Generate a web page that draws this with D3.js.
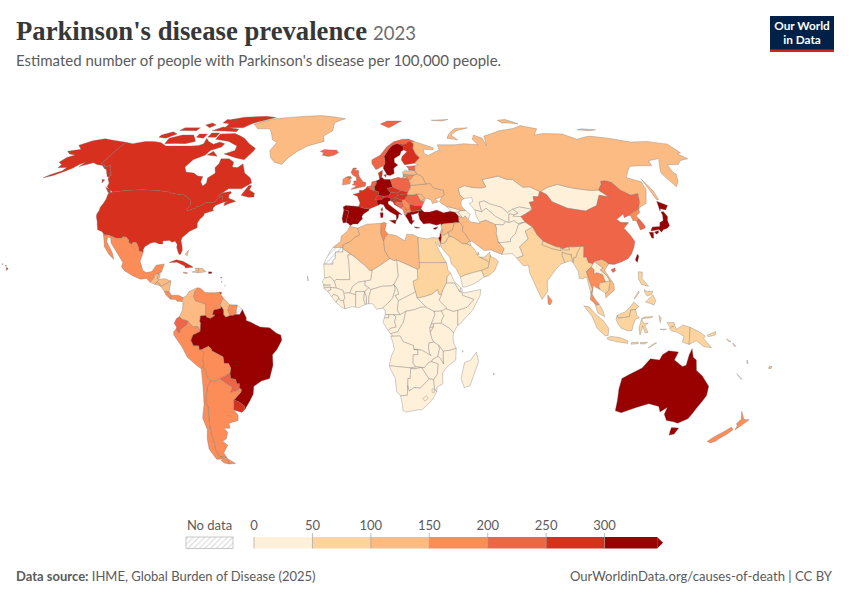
<!DOCTYPE html>
<html><head><meta charset="utf-8">
<script src="https://cdn.jsdelivr.net/npm/d3@7"></script>
<style>html,body{margin:0;padding:0;background:#fff}svg{display:block}text{font-family:Lato,sans-serif}</style>
</head><body><svg id="c" width="850" height="600"></svg>
<script>
const legendTicks=[0,50,100,150,200,250,300];
const legendColors=["#fef0d9","#fdd49e","#fdbb84","#fc8d59","#ef6548","#d7301f","#990000"];
const titleText="Parkinson's disease prevalence";
const yearText="2023";
const subtitleText="Estimated number of people with Parkinson's disease per 100,000 people.";
const noData=null;
// Estimated prevalence per 100,000 people, read from the map's colour bins
const prevalenceAmericas={USA:270,Alaska:270,Canada:270,Greenland:130,Mexico:165,Guatemala:120,Belize:120,ElSalvador:125,Honduras:110,Nicaragua:120,CostaRica:160,Panama:170,Cuba:270,Jamaica:160,Haiti:110,DominicanRep:130,PuertoRico:320,Trinidad:260,Colombia:140,Venezuela:170,Guyana:130,Suriname:160,FrenchGuiana:noData,Ecuador:210,Peru:170,Brazil:330,Bolivia:170,Paraguay:220,Argentina:180,Chile:180,Uruguay:265,Bahamas:130,Guadeloupe:200,Martinique:210,Barbados:150};
const prevalenceAfrica={Morocco:130,WesternSahara:noData,Mauritania:30,Algeria:130,Tunisia:175,Libya:130,Egypt:90,Sudan:70,Chad:25,Niger:20,Mali:20,Senegal:30,Gambia:30,GuineaBissau:25,Guinea:25,SierraLeone:25,Liberia:25,IvoryCoast:25,BurkinaFaso:20,Ghana:30,Togo:25,Benin:25,Nigeria:25,Cameroon:25,CAR:20,EqGuinea:30,Gabon:35,Congo:30,DRC:20,Angola:25,Zambia:25,Namibia:30,Botswana:35,Zimbabwe:30,SouthAfrica:40,Lesotho:30,Eswatini:30,Mozambique:20,Malawi:25,Tanzania:25,Rwanda:25,Burundi:20,Uganda:20,Kenya:25,Somalia:20,Ethiopia:25,Djibouti:35,Eritrea:25,SouthSudan:25,Madagascar:25,CapeVerde:40,Comoros:30,Mauritius:210};
const prevalenceAsia={Turkey:330,Syria:105,Iraq:105,Iran:135,SaudiArabia:85,Yemen:35,Oman:75,UAE:80,Qatar:70,Kuwait:90,Jordan:90,Israel:310,Lebanon:130,Cyprus:310,Georgia:45,Armenia:45,Azerbaijan:45,Kazakhstan:40,Mongolia:30,Uzbekistan:25,Turkmenistan:25,Kyrgyzstan:30,Tajikistan:25,Afghanistan:20,Pakistan:40,India:85,Nepal:60,Bhutan:70,Bangladesh:70,China:225,Taiwan:310,NorthKorea:170,SouthKorea:215,Japan:340,Russia:135,Myanmar:90,Thailand:180,Laos:40,Vietnam:135,Cambodia:80,Malaysia:90,Indonesia:80,Philippines:80,SriLanka:170};
const prevalenceEurope={Iceland:220,Spain:340,Portugal:330,France:280,Belgium:240,Netherlands:240,Luxembourg:270,Germany:350,Denmark:280,Switzerland:270,Austria:270,Italy:340,Slovenia:260,Croatia:270,Bosnia:210,Serbia:190,Montenegro:190,Albania:190,NorthMacedonia:190,Greece:330,Bulgaria:265,Romania:220,Hungary:260,Slovakia:255,Czechia:265,Poland:230,Ukraine:130,Moldova:140,Belarus:120,Lithuania:170,Latvia:140,Estonia:210,Finland:265,Sweden:340,Norway:240,UK:230,Ireland:190};
const prevalenceOceania={Australia:330,PNG:70,NewZealand:190,Solomon:60,Vanuatu:55,NewCaledonia:noData,Fiji:130,Samoa:60,Tonga:70};
const prevalence=Object.assign({},prevalenceAmericas,prevalenceAfrica,prevalenceAsia,prevalenceEurope,prevalenceOceania);
// Simplified country outlines, longitude,latitude
const outlinesAmericas={
USA:["-124.7,48.4 -123,49 -95.2,49 -94.6,48.7 -92,48.3 -89.5,48 -88,48.2 -84.8,46.8 -84.5,46.5 -83.5,46 -82.5,45.3 -82.1,43.6 -83.1,42.1 -82.5,41.7 -79,42.8 -79,43.3 -76.8,43.6 -76.3,44.2 -74.8,45 -71.5,45 -70.8,45.4 -70.2,46.3 -69.2,47.45 -68.3,47.3 -67.8,47.1 -67.8,45.7 -67,44.9 -68.5,44.3 -70,43.7 -70.8,42.8 -70.6,41.9 -70,41.7 -71.5,41.4 -74,40.7 -74.2,39.6 -75.4,38.5 -75.9,37.2 -76,36.9 -75.5,35.2 -77,34.6 -78.5,33.9 -79.9,32.7 -81.2,31.5 -81.4,30.4 -80.5,28.4 -80,26.8 -80.4,25.2 -81.1,25.1 -81.8,26.1 -82.7,27.7 -82.8,29 -84,30.1 -85.3,29.7 -86.5,30.4 -88,30.3 -89.5,30.2 -89.2,29.1 -90.8,29.1 -93,29.7 -94.7,29.4 -97,28 -97.4,26.9 -97.15,25.95 -99.1,26.4 -99.5,27.5 -100.7,29.1 -101.5,29.8 -102.7,29.7 -103.2,29 -104.5,29.6 -104.9,30.6 -106.5,31.75 -108.2,31.8 -108.2,31.33 -111,31.33 -114.8,32.5 -117.1,32.53 -117.3,33 -118.4,33.8 -120.6,34.5 -121.9,36.6 -122.5,37.7 -123.8,39.3 -124.3,40.4 -124.1,42 -124.5,42.9 -124,44.7 -124,46.2","-155.9,20.2 -155,19.7 -155.7,19","-158.2,21.6 -157.7,21.4 -158.1,21.3","-156.7,21 -156,20.8 -156.4,20.6"],
Alaska:["-141,69.65 -141,60.3 -139,60 -137.5,58.9 -135.5,59.7 -133.5,58.4 -131,56 -130,55.9 -130.5,54.9 -131.5,55 -133.5,56.5 -135.5,58 -137,58.4 -139.5,59.6 -143,60 -146,60.8 -148.5,60 -151.5,59.2 -150.5,61 -152.5,60 -154,58.5 -157,57 -160,55.5 -164,54.6 -162,55.8 -158,57.5 -157.5,58.8 -162,58.7 -162,60 -165,61 -164,63 -161,64 -165,64.5 -168,65.6 -162,66.5 -166.5,68.3 -162,70.3 -156.5,71.3 -150,70.5"],
Canada:["-141,69.65 -136,69 -130,70 -125,70 -120,69.5 -115,68 -108,68 -100,68 -96,68.2 -94,69 -95,71.5 -92,70 -88,68.8 -85,69.7 -81.5,69 -82,67.5 -87,66 -88,64 -93,62 -94.7,59 -92.5,57 -88,56.5 -85,55.3 -82.3,55.1 -82,53 -80,51.3 -78.8,52.5 -79.5,54.5 -76.8,56.5 -78.5,58.7 -77.5,60.5 -78,62.4 -73.5,62.4 -70,61 -69.5,59 -66.5,58.8 -64.5,60.3 -61.5,56.5 -57.5,54.5 -56,52.5 -60,50.2 -66.5,50.2 -69,48.5 -71,46.9 -68.5,48.7 -65,49.2 -64.3,48.6 -65.3,47.9 -64.8,46.5 -62,45.8 -61,45.3 -63.5,44.6 -66,43.6 -66,44.8 -64.5,45.4 -67,44.9 -67.8,45.7 -67.8,47.1 -68.3,47.3 -69.2,47.45 -70.2,46.3 -70.8,45.4 -71.5,45 -74.8,45 -76.3,44.2 -76.8,43.6 -79,43.3 -79,42.8 -82.5,41.7 -83.1,42.1 -82.1,43.6 -82.5,45.3 -83.5,46 -84.5,46.5 -84.8,46.8 -88,48.2 -89.5,48 -92,48.3 -94.6,48.7 -95.2,49 -123,49 -124.7,49.7 -127.5,51 -128,52.5 -130,54 -130.5,54.9 -130,55.9 -131,56 -133.5,58.4 -135.5,59.7 -137.5,58.9 -139,60 -141,60.3","-128,50.8 -125,50 -123.5,48.4 -125,48.8","-133,54 -131.5,53.8 -131.5,52.5","-59.3,47.7 -57,51.5 -55.5,51.5 -56,49.8 -53,48.5 -52.8,47 -55.5,46.9","-62,66 -65,62 -70,62.8 -78,64.5 -73,66 -73.5,68 -80,70 -89,71 -89,73.5 -80,73.7 -72,71.5 -67,69 -62,67","-105,69 -117,69 -118,71.5 -112,73 -105,73 -100,70","-125,72 -120,71.5 -116,73.5 -120,74.5 -125,73","-90,76.5 -78,76.5 -75,78.5 -68,80.5 -62,82.3 -70,83.1 -85,82.4 -92,81 -90,78","-96,75 -80,74.5 -80,75.8 -92,77","-95,79 -88,78.5 -87,80.5 -95,81","-117,75.2 -106,75 -106,76.5 -116,76.5","-95,72 -90,72 -90,74 -95,74","-102,72 -97,71.5 -97,73.5 -102,73.5","-87,64 -81,63.5 -85,65.7","-105,78 -100,76.5 -98,78 -102,79"],
Greenland:["-73,78.3 -68,76 -60,76 -54.5,70.8 -51,69.5 -53,66 -51,63 -48,61 -43.5,60 -41,63 -37,65.7 -32,68 -23,70 -24,72.5 -19,75 -19,79 -12,81.5 -30,83.5 -50,82.5 -62,81.5 -68,80"],
Mexico:["-117.1,32.53 -114.8,32.5 -111,31.33 -108.2,31.33 -108.2,31.8 -106.5,31.75 -104.9,30.6 -104.5,29.6 -103.2,29 -102.7,29.7 -101.5,29.8 -100.7,29.1 -99.5,27.5 -99.1,26.4 -97.15,25.95 -97.8,22.5 -96,19 -94.5,18.2 -92,18.6 -90.5,21 -87,21.5 -87.8,18.2 -88.3,18.5 -88.9,17.9 -91,17.25 -90.5,16.5 -92.2,14.5 -94,16 -96.5,15.7 -100,16.9 -104,18.9 -105.6,20.4 -105.3,22 -108,25 -109.5,26.5 -112.5,29.5 -113.2,31.2 -114.8,31.7 -114.6,30 -111,26 -109.5,23.2 -112,25 -115,28 -116,30.5"],
Guatemala:["-92.2,14.5 -90.5,16.5 -91,17.25 -88.9,17.9 -89.15,15.9 -88.2,15.7 -89.35,14.4 -90.1,13.75"],
Belize:["-88.3,18.5 -88.2,16.3 -89.15,15.9 -88.9,17.9"],
ElSalvador:["-90.1,13.75 -89.35,14.4 -87.8,13.9 -87.8,13.2"],
Honduras:["-88.2,15.7 -86,15.9 -83.2,15 -85,14 -87.3,13 -87.8,13.2 -87.8,13.9 -89.35,14.4"],
Nicaragua:["-83.2,15 -83.6,11 -85.7,11.1 -87.6,13 -87.3,13 -85,14"],
CostaRica:["-83.6,11 -82.6,9.6 -82.9,8.1 -85,9.8 -85.7,11.1"],
Panama:["-82.6,9.6 -79.5,9.6 -77.4,8.7 -77.9,7.2 -80,7.3 -80.5,8 -82.9,8.1"],
Cuba:["-85,22 -82,23.1 -79,22.5 -75,20.7 -74.2,20.2 -77.5,19.9 -78,20.7 -81.5,22.1"],
Jamaica:["-78.3,18.4 -76.3,18.1 -77,17.8 -78.3,18.2"],
Haiti:["-74.4,18.4 -71.7,18.1 -71.7,19.8 -73.2,19.9 -72.7,18.9"],
DominicanRep:["-71.7,18.1 -68.4,18.5 -69.8,19.7 -71.7,19.8"],
PuertoRico:["-67.2,18.5 -65.7,18.4 -66,17.9 -67.2,17.9"],
Trinidad:["-61.9,10.7 -61,10.8 -61,10.1 -61.9,10.1"],
Bahamas:["-78.4,25.2 -77.2,26.7 -77.4,24.6"],
Guadeloupe:["-61.8,16.4 -61.2,16.4 -61.5,16"],
Martinique:["-61.2,14.9 -60.9,14.6 -61.1,14.4"],
Barbados:["-59.7,13.3 -59.4,13.2 -59.6,13"],
Colombia:["-77.4,8.7 -76,9.4 -75,11 -72,12.3 -71.2,12.4 -72.5,11 -72.9,9 -71.9,7.4 -70,7 -67.5,6.2 -67.5,4 -67.5,1.9 -69.8,1.7 -69.8,0.6 -70,-0.2 -69.6,-1 -69.9,-4.2 -70.9,-2.3 -73,-2.4 -75.2,-0.2 -77.5,0.4 -78.8,1.4 -77.5,4 -77.4,7 -77.9,7.2"],
Venezuela:["-72.5,11 -71.2,12.4 -70,12.2 -68,10.6 -64,10.5 -62,10.7 -60,8.5 -60.7,7.5 -61.3,5.9 -60.7,5.2 -61.3,4.5 -64,4 -64.5,2.2 -63.4,2.2 -64,1.5 -65.5,0.8 -67,1.2 -67.5,1.9 -67.5,4 -67.5,6.2 -70,7 -71.9,7.4 -72.9,9"],
Guyana:["-60,8.5 -57.2,6 -58,4 -56.9,1.9 -58.8,1.2 -59.8,2.2 -59.9,4 -60.7,5.2 -61.3,5.9 -60.7,7.5"],
Suriname:["-57.2,6 -54,5.9 -54.4,2.3 -56,1.9 -56.9,1.9 -58,4"],
FrenchGuiana:["-54,5.9 -51.7,4.2 -52.8,2.3 -54.4,2.3"],
Ecuador:["-78.8,1.4 -77.5,0.4 -75.2,-0.2 -75.5,-1.5 -78.3,-3.4 -79,-5 -80.3,-3.4 -80,-2.5 -81,-1 -80,0.8"],
Peru:["-80.3,-3.4 -79,-5 -78.3,-3.4 -75.5,-1.5 -75.2,-0.2 -73,-2.4 -70.9,-2.3 -69.9,-4.2 -73,-5.5 -74,-7.5 -73,-9.5 -70.6,-9.6 -70.6,-11 -69.5,-11 -68.7,-12.5 -69.4,-15.5 -69,-16.5 -69.5,-17.5 -70.4,-18.35 -72,-17.3 -76,-14 -78,-10 -81.3,-5.5 -81.3,-4.2"],
Brazil:["-60.7,5.2 -59.9,4 -59.8,2.2 -58.8,1.2 -56.9,1.9 -56,1.9 -54.4,2.3 -52.8,2.3 -51.7,4.2 -50,1 -50,0 -48,-0.7 -44,-2.5 -40,-2.8 -37,-4.8 -35.2,-5.5 -34.8,-7.5 -37,-11 -39,-13 -39,-17 -40.8,-22 -44.5,-23 -48,-25 -48.7,-28 -50.5,-30.5 -53.4,-33.8 -53.3,-32.5 -55.6,-30.9 -57.6,-30.2 -54,-27.2 -53.7,-26.2 -54.6,-25.6 -54.3,-24 -55.5,-24 -55.8,-22.3 -58,-22 -58,-20 -57.5,-18 -58.3,-16.3 -60.2,-16.3 -60.5,-13.8 -65.3,-11.5 -65.3,-10.9 -66.5,-9.8 -69.5,-11 -70.6,-11 -70.6,-9.6 -73,-9.5 -74,-7.5 -73,-5.5 -69.9,-4.2 -69.6,-1 -70,-0.2 -69.8,0.6 -69.8,1.7 -67.5,1.9 -67,1.2 -65.5,0.8 -64,1.5 -63.4,2.2 -64.5,2.2 -64,4 -61.3,4.5"],
Bolivia:["-69.5,-11 -66.5,-9.8 -65.3,-10.9 -65.3,-11.5 -60.5,-13.8 -60.2,-16.3 -58.3,-16.3 -57.5,-18 -58,-20 -62.6,-22.2 -64.3,-22.8 -67,-23 -68.2,-21.5 -68.5,-19.5 -69.5,-17.5 -69,-16.5 -69.4,-15.5 -68.7,-12.5"],
Paraguay:["-58,-20 -58,-22 -55.8,-22.3 -55.5,-24 -54.3,-24 -54.6,-25.6 -55,-26.5 -58.6,-27.3 -57.6,-25.4 -60,-24 -62.6,-22.2"],
Argentina:["-67,-23 -64.3,-22.8 -62.6,-22.2 -60,-24 -57.6,-25.4 -58.6,-27.3 -55,-26.5 -54.6,-25.6 -53.7,-26.2 -54,-27.2 -57.6,-30.2 -58.2,-33 -58.4,-34 -57,-36 -57.5,-38 -62,-39 -62.2,-41 -65,-41 -63.8,-42.5 -65.3,-45 -67.5,-46 -65.7,-47.5 -69,-50.5 -68.4,-52.3 -71.9,-52 -72.5,-49.5 -71.7,-46 -71.8,-43 -71.2,-39.5 -70.5,-36 -69.9,-33 -70.5,-31 -69.2,-27 -68.3,-24.5","-68.6,-52.6 -65.2,-54.7 -68.6,-54.9"],
Chile:["-70.4,-18.35 -69.5,-17.5 -68.5,-19.5 -68.2,-21.5 -67,-23 -68.3,-24.5 -69.2,-27 -70.5,-31 -69.9,-33 -70.5,-36 -71.2,-39.5 -71.8,-43 -71.7,-46 -72.5,-49.5 -71.9,-52 -68.4,-52.3 -70.5,-53 -74,-53 -75.5,-49 -74.5,-45 -73,-41.5 -73.6,-37 -71.5,-32 -70.5,-25","-68.6,-52.6 -68.6,-54.9 -71,-54.5 -72,-53.5 -70,-53"],
Uruguay:["-57.6,-30.2 -55.6,-30.9 -53.3,-32.5 -53.4,-33.8 -55,-34.9 -58.4,-34 -58.2,-33"]};
const outlinesAfrica={
Morocco:["-5.9,35.8 -2.2,35.1 -1.7,33.5 -1.2,32.5 -3.6,31.5 -5.5,29.9 -8.7,28.7 -8.7,27.7 -13.2,27.7 -9.8,30 -9.6,32 -6.8,34"],
WesternSahara:["-13.2,27.7 -8.7,27.7 -8.7,26 -12,26 -12,23.5 -13,21.4 -17,21.4 -16,23.5 -14.5,26"],
Mauritania:["-17,21.4 -13,21.4 -13,23 -12,23.5 -12,26 -8.7,26 -8.7,27.3 -4.8,25 -6.5,24.9 -5.9,21.3 -5.5,15.5 -9.3,15.5 -11.5,15.6 -12.2,14.8 -14,16.6 -16.5,16.1"],
Algeria:["-2.2,35.1 2,36.6 8.6,36.9 8.3,33 9.5,30.2 9.9,26.5 11.97,23.5 7.5,20.8 4.2,19.1 3.2,18.9 1.2,20.8 -4.8,25 -8.7,27.3 -8.7,28.7 -5.5,29.9 -3.6,31.5 -1.2,32.5 -1.7,33.5"],
Tunisia:["8.6,36.9 10,37.3 11,36.9 10.2,34.3 11.2,33.2 11.5,32.9 10.3,31.7 9.5,30.2 8.3,33"],
Libya:["11.5,32.9 15.2,32.3 19,30.3 20,32.8 23,32.6 25,31.6 25,22 25,20 24,19.5 15,23 14.2,22.6 11.97,23.5 9.9,26.5 9.5,30.2 10.3,31.7"],
Egypt:["25,31.6 29,31 31.5,31.5 34.2,31.3 34.9,29.5 34.3,27.9 33,29.6 32.6,29.8 33.8,27 35.5,24 36.9,22 31.4,22 25,22"],
Sudan:["24,19.5 25,20 25,22 31.4,22 36.9,22 37.4,19 38.5,18 36.9,16.8 36.5,14.3 35,12 34,9.6 33,10 32.4,11.7 30,10 26.5,9 24.6,8.7 23.5,8.7 22.9,10.9 22.3,12.6 22,15 24,15.7"],
Chad:["15,23 24,19.5 24,15.7 22,15 22.3,12.6 22.9,10.9 18.9,9 15.5,7.5 14,9.5 15.6,10 15,12 13.6,13.7 15.5,16.9"],
Niger:["11.97,23.5 14.2,22.6 15,23 15.5,16.9 13.6,13.7 12.5,13.1 8.5,13 3.6,11.7 2.8,12.4 1,13.3 1,15 3.5,15.4 4.2,19.1 7.5,20.8"],
Mali:["-4.8,25 1.2,20.8 3.2,18.9 4.2,19.1 3.5,15.4 1,15 -2,14.5 -4.3,12.9 -5.5,10.5 -7.6,10.4 -8,10.2 -8.5,11.5 -11.4,12.3 -12.2,14.8 -11.5,15.6 -9.3,15.5 -5.5,15.5 -5.9,21.3 -6.5,24.9"],
Senegal:["-16.5,16.1 -14,16.6 -12.2,14.8 -11.4,12.3 -13.7,12.6 -16.7,12.4 -16.8,13.6 -17.5,14.7"],
Gambia:["-16.8,13.6 -14,13.6 -14,13.2 -16.8,13.2"],
GuineaBissau:["-16.7,12.4 -13.7,12.6 -13.7,11.7 -15,11 -16.5,12"],
Guinea:["-13.7,12.6 -11.4,12.3 -8.5,11.5 -8,10.2 -7.6,8.4 -8.2,7.6 -9.4,7.5 -10.3,8.5 -10.7,9.3 -12.5,9.9 -13.3,9 -15,11 -13.7,11.7"],
SierraLeone:["-13.3,9 -12.5,9.9 -10.7,9.3 -10.3,8.5 -11.4,6.9"],
Liberia:["-11.4,6.9 -10.3,8.5 -9.4,7.5 -8.2,7.6 -7.5,4.4 -9,5"],
IvoryCoast:["-8.2,7.6 -7.6,8.4 -8,10.2 -7.6,10.4 -5.5,10.5 -2.9,9.8 -3,5.1 -4.8,5.2 -7.5,4.4"],
BurkinaFaso:["-5.5,10.5 -4.3,12.9 -2,14.5 1,15 1,13.3 2.8,12.4 0.9,11 -2.9,11 -2.9,9.8"],
Ghana:["-2.9,11 0.9,11 0.5,8 1.2,6.1 -2,4.8 -3,5.1 -2.9,9.8"],
Togo:["0.9,11 1.7,9 1.7,6.2 1.2,6.1 0.5,8"],
Benin:["0.9,11 2.8,12.4 3.6,11.7 2.8,9 2.7,6.4 1.7,6.2 1.7,9"],
Nigeria:["2.7,6.4 2.8,9 3.6,11.7 8.5,13 12.5,13.1 13.6,13.7 14.2,12 13,8.5 11,6.6 8.6,4.7 6,4.3 4.5,6.3"],
Cameroon:["8.6,4.7 11,6.6 13,8.5 14.2,12 13.6,13.7 15,12 15.6,10 14,9.5 15.5,7.5 15,4 16.2,2.2 13.3,2.2 9.8,2.3 9.7,4"],
CAR:["15.5,7.5 18.9,9 22.9,10.9 23.5,8.7 27.4,5.1 25,5 22.4,4.1 18.6,3.5 16.2,2.2 15,4"],
EqGuinea:["9.8,2.3 11.3,2.2 11.3,1 9.4,1"],
Gabon:["9.4,1 11.3,1 11.3,2.2 13.3,2.2 14.4,1.4 13.8,-0.5 14.5,-2.5 12,-3 11.1,-3.9 8.8,-0.7"],
Congo:["11.1,-3.9 12,-3 14.5,-2.5 13.8,-0.5 14.4,1.4 13.3,2.2 16.2,2.2 18.6,3.5 17.7,-0.5 16,-3 15.2,-4.3 12,-5"],
DRC:["12.2,-6 13,-5.9 12,-5 15.2,-4.3 16,-3 17.7,-0.5 18.6,3.5 22.4,4.1 25,5 27.4,5.1 30.8,3.5 31.2,2.3 29.6,-1.4 29,-2.7 29.2,-4.4 30,-7 30.8,-8.2 28.7,-8.5 28.5,-10 29,-12.4 29.8,-13.4 27.5,-12.2 25.7,-11.3 22.2,-11 22,-9.5 17.6,-8.1 16.2,-5.9"],
Angola:["12.2,-6 16.2,-5.9 17.6,-8.1 22,-9.5 22.2,-11 24,-11 24,-13 22,-13 22,-16.2 23.4,-17.6 21,-18 14,-17.4 11.7,-17.2 12.5,-13.5 13.8,-11 13,-8"],
Zambia:["22.2,-11 25.7,-11.3 27.5,-12.2 29.8,-13.4 29,-12.4 28.5,-10 28.7,-8.5 30.8,-8.2 33,-9.4 33.3,-10.8 32.7,-13.6 30.2,-15 30.2,-15.6 28.9,-15.9 27,-17.9 25.3,-17.8 23.4,-17.6 22,-16.2 22,-13 24,-13 24,-11"],
Namibia:["11.7,-17.2 14,-17.4 21,-18 23.4,-17.6 25.3,-17.8 23.4,-18.3 21,-18.3 21,-22 20,-22 20,-28.4 17,-28.6 15.2,-27 14.4,-22 12,-18"],
Botswana:["21,-18.3 23.4,-18.3 25.3,-17.8 26,-18 29.3,-22.2 26.9,-24.5 25.6,-25.7 22.8,-25.5 20.7,-26.8 20,-24.8 20,-22 21,-22"],
Zimbabwe:["25.3,-17.8 27,-17.9 28.9,-15.9 30.2,-15.6 33,-16.5 32.8,-20.5 31.3,-22.4 29.3,-22.2 26,-18"],
SouthAfrica:["17,-28.6 20,-28.4 20,-24.8 20.7,-26.8 22.8,-25.5 25.6,-25.7 26.9,-24.5 29.3,-22.2 31.3,-22.4 32,-26 32.9,-27 32,-29 30,-31.5 27,-33.9 25,-34 20,-34.8 18.4,-34.2 18,-32"],
Lesotho:["27,-29.6 28.6,-28.6 29.4,-29.6 28,-30.6"],
Eswatini:["30.8,-26 32,-26 32,-27.3 31,-27.3"],
Mozambique:["30.2,-15 30.2,-15.6 33,-16.5 32.8,-20.5 31.3,-22.4 32,-26 32.9,-27 33,-25.3 35.5,-24 35,-20 37,-17.5 40.5,-15 40.5,-10.5 38,-11.2 34.9,-11.6 35,-14.3 35.3,-16.5 34,-14.5 32.7,-13.6"],
Malawi:["33,-9.4 34.9,-11.6 35,-14.3 35.3,-16.5 34,-14.5 32.7,-13.6 33.3,-10.8"],
Tanzania:["30.5,-1.1 33.9,-1 37.6,-3 39.2,-4.7 39,-6.5 39.5,-9 40.5,-10.5 38,-11.2 34.9,-11.6 33,-9.4 30.8,-8.2 30,-7 29.2,-4.4 30.5,-2.4"],
Rwanda:["29,-2.7 30.5,-2.4 30.5,-1.1 29.6,-1.4"],
Burundi:["29,-2.7 30.5,-2.4 29.2,-4.4"],
Uganda:["30.8,3.5 33.9,3.7 35,1.8 34,0 33.9,-1 30.5,-1.1 29.6,-1.4 31.2,2.3"],
Kenya:["33.9,3.7 36,4.5 39,3.5 41,3.9 41,-1.7 39.2,-4.7 37.6,-3 33.9,-1 34,0 35,1.8"],
Somalia:["41,3.9 42,4.2 45,5 48,8 43.3,9.5 42.8,10.9 44,10.5 51.2,11.8 50.8,9.5 47.5,4 41.5,-1.7 41,-1.7"],
Ethiopia:["36,4.5 39,3.5 41,3.9 42,4.2 45,5 48,8 43.3,9.5 42.8,10.9 42,11 40,14.3 37.5,14.3 36.5,14.3 35,12 34,9.6 33,7.7 35.9,5"],
Djibouti:["42,11 42.8,10.9 43.3,11.6 42.6,12.5"],
Eritrea:["38.5,18 39.7,15 42.6,12.5 42,11 40,14.3 37.5,14.3 36.5,14.3 36.9,16.8"],
SouthSudan:["23.5,8.7 24.6,8.7 26.5,9 30,10 32.4,11.7 33,10 34,9.6 33,7.7 35.9,5 36,4.5 33.9,3.7 30.8,3.5 27.4,5.1"],
Madagascar:["49.3,-12 50.5,-15.5 47.5,-24.8 45,-25.5 43.3,-22 44.4,-16 47,-15"],
CapeVerde:["-24,16.9 -23.5,15.3 -23.8,15"],
Comoros:["43.3,-11.4 43.6,-12 43.3,-12"],
Mauritius:["57.4,-20 57.8,-20.3 57.4,-20.6"]};
const outlinesAsia={
Turkey:["26.2,41.8 28,42 29,41.2 31.5,41.2 35,42 38,41 41.5,41.5 43.5,41.1 44.8,39.7 44.5,37.8 44.8,37.2 42.4,37.1 38,36.8 36.7,36.7 36,36 36,36.8 34,36.2 30.7,36.9 28,36.7 26.5,38.5 26.2,40"],
Syria:["36,36 36.7,36.7 38,36.8 42.4,37.1 41,34.5 38.8,33.4 36.8,32.3 35.8,33 36.4,34.6 35.9,35"],
Iraq:["42.4,37.1 44.8,37.2 46,35.8 45.4,34 46.5,32.9 47.7,31 48.5,30 47.7,30 46.5,29.1 44.7,29.2 41,31.5 39,32 38.8,33.4 41,34.5"],
Iran:["44.8,39.7 47.9,39.7 48.9,38.4 50,37.4 54,36.9 54,37.4 57,38.2 61,36.5 61.2,35 60.6,33 60.9,29.8 63,27.2 61.6,25.1 57,26.8 54,26.6 51,28.7 48.9,30.3 48.5,30 47.7,31 46.5,32.9 45.4,34 46,35.8 44.8,37.2 44.5,37.8"],
SaudiArabia:["34.9,29.5 36,29.2 37.5,30 38,31 39,32 41,31.5 44.7,29.2 46.5,29.1 48.4,28.5 50,26.7 50.8,24.8 51.6,24.1 55,22.7 55.7,22 55,20 52,19 48.8,18.3 45,17.4 43.2,16.7 42.7,16.4 40.8,19.8 39,21.5 38.5,24 36.6,26 34.9,28.1"],
Yemen:["42.7,16.4 43.2,16.7 45,17.4 48.8,18.3 52,19 53.1,16.6 48.5,14 45,12.8 43.4,12.7"],
Oman:["52,19 55,20 55.7,22 56.4,24.9 56.8,24.2 58.6,23.5 59.8,22.4 57.8,19 55,17 53.1,16.6"],
UAE:["51.6,24.1 54,24.1 56.3,26 56.4,24.9 55.7,22 55,22.7"],
Qatar:["50.8,24.8 51.2,26.1 51.6,25"],
Kuwait:["46.5,29.1 47.7,30 48.1,29.5 48.4,28.5"],
Jordan:["34.9,29.5 35.5,31.5 35.6,32.7 36.8,32.3 38.8,33.4 39,32 38,31 37.5,30 36,29.2"],
Israel:["34.2,31.3 34.9,29.5 35.5,31.5 35.6,32.7 35.1,33.1 34.9,32"],
Lebanon:["35.1,33.1 35.8,33 36.4,34.6 35.9,34.6"],
Cyprus:["32.3,35 34.5,35.6 33.5,34.7 32.5,34.7"],
Georgia:["40,43.4 43.8,42.6 46.5,41.8 45,41.2 43.5,41.1 41.5,41.5"],
Armenia:["43.5,41.1 45,41.2 46.5,38.9 44.8,39.7"],
Azerbaijan:["45,41.2 46.5,41.8 48.6,41.8 50.3,40.3 48.9,38.4 47.9,39.7 46.5,38.9"],
Kazakhstan:["47.5,50.4 51,51.5 55,50.7 59.5,50.6 61.5,51 61,53.9 65,54.5 70,55.3 73.5,54 76.5,54 77,53.5 80,50.9 83.5,51 87.3,49.2 85.5,47.1 83,47.2 82.5,45.3 80,45 80.2,42.2 74.5,43.2 71,42.3 68,41 66,43 61,44.3 58.5,45.5 56,45 56,41.3 53,42 51,44.5 53,45.3 53,46.9 49,46.4 47.5,48"],
Mongolia:["87.8,49.2 92,50.8 98,52 102,51 106,50.3 113,49.6 116.7,49.8 119.8,47 115.5,47.7 111.5,43.7 105,41.6 97,42.7 91,45.2 90,47.9"],
Uzbekistan:["56,45 58.5,45.5 61,44.3 66,43 68,41 71,42.3 73,40.8 71,40.2 68.5,40.5 67.5,37.2 66,37.5 62,39.5 58.5,42.7 56,41.3"],
Turkmenistan:["53,42 56,41.3 58.5,42.7 62,39.5 66,37.5 64.5,36.3 61,36.5 57,38.2 54,37.4 53,39.5"],
Kyrgyzstan:["71,42.3 74.5,43.2 80.2,42.2 76,40.4 73.7,39.5 70,39.6 71,40.2 73,40.8"],
Tajikistan:["68.5,40.5 71,40.2 70,39.6 73.7,39.5 75,37.4 71.5,36.8 70,37.9 67.5,37.2"],
Afghanistan:["61,36.5 64.5,36.3 66,37.5 67.5,37.2 70,37.9 71.5,36.8 75,37.4 71.6,36.4 69.3,33 66.5,31 66.3,29.9 61,29.5 60.9,29.8 60.6,33 61.2,35"],
Pakistan:["60.9,29.8 61,29.5 66.3,29.9 66.5,31 69.3,33 71.6,36.4 75,37.4 77.8,35.5 74,34 74.5,31 70,28 71,24.6 68,23.7 66.5,25.4 61.6,25.1 63,27.2"],
India:["74.5,31 74,34 77.8,35.5 79,32.5 81,30.2 80.1,28.8 84,27.4 88.1,26.5 88.1,27.9 88.8,27.3 89.8,26.8 92,26.9 91.5,28 94,28 97.3,28.2 95,25.5 94.2,23.9 93.3,24 92.6,22 92,24.8 92.4,25 89.9,25.3 88.5,26 88.2,24.5 89,22 87,21.4 85,19.8 80.3,15 80,11 77.5,8 76,11 73,18 72.8,21 70.5,20.8 69,22.5 68,23.7 71,24.6 70,28"],
Nepal:["80.1,28.8 81,30.2 84,29 86.5,28 88.1,27.9 88.1,26.5 84,27.4"],
Bhutan:["88.8,27.3 91.5,28 92,26.9 89.8,26.8"],
Bangladesh:["88.2,24.5 88.5,26 89.9,25.3 92.4,25 92,24.8 92.6,22 91.5,22.7 89,22"],
China:["73.7,39.5 76,40.4 80.2,42.2 80,45 82.5,45.3 83,47.2 85.5,47.1 87.3,49.2 87.8,49.2 90,47.9 91,45.2 97,42.7 105,41.6 111.5,43.7 115.5,47.7 119.8,47 116.7,49.8 120,52 120.8,53.2 123.5,53.5 126,52.8 127.6,49.8 131,47.8 135,48.4 133,45 131,43 130.6,42.4 128,41.5 124.4,40 121.5,39 122,40.5 119,39 117.7,38.5 119,37.3 122.6,37.2 119.3,35 121,32.5 122,30 121,28 119,25.3 117,23.5 114,22.3 110.5,21.3 108,21.5 106.7,22.5 105.3,23.2 102,22.4 101.2,21.5 99.2,22 98.7,24 97.5,24 98.5,28 97.3,28.2 94,28 91.5,28 88.8,27.3 88.1,27.9 86.5,28 84,29 81,30.2 79,32.5 77.8,35.5 75,37.4","108.7,19.3 110.5,20 110.5,18.8 109.3,18.2"],
Taiwan:["121.5,25.2 122,24.5 120.8,22 120.1,23"],
NorthKorea:["130.6,42.4 130,41 127.5,39.7 128.3,38.6 126.7,37.8 125,38 125,39.6 124.4,40 128,41.5"],
SouthKorea:["128.3,38.6 129.4,36 129,35.1 126.5,34.4 126.5,37 126.7,37.8"],
Japan:["141.4,41.4 142,39.5 141,38 140.7,36 139,35 136.9,34.5 135.7,33.5 135,34.6 132.5,34.2 131,34 132.5,35.5 136,35.7 137,37.2 139,38 140,40 140.2,41.2","140,41.5 141.5,45.4 145.3,43.7 143,42 141,42.5","130,33.5 132,33.5 131,31.2 130.2,31.3","132.5,33.6 134.6,34.2 134.2,33.3 133,32.8"],
Russia:["40,43.4 38,44.3 37,45.3 38.5,47 39.8,47.9 40,49.6 35.5,50.4 34,52.3 31.8,52.1 30.8,55 28.2,56.1 27.5,57.5 28,59.5 30,59.9 28,60.5 31.5,62.9 29.8,64.5 29,66.9 30,69 28.5,70 31,70 33,69.4 41,67.2 40.5,66.3 35,66.5 34.8,64.5 37,63.9 40,65 44,66.2 44,68.5 54,68.5 60,69 68,68.5 66.5,71 69,73 73,71.5 72.5,68 75,72.5 80,73.5 87,75 98,76.2 105,77.7 113,76 107,73 113,73.7 125,73.5 130,71 140,72.5 150,71.5 160,69.7 170,70 178,69 180,68.9 180,65 177.5,64.6 179.3,62.4 174,61.7 170,60 164,59.9 162.5,57 163,56 160,53 156.7,51 155.7,56.5 163.5,62.5 156.5,61.6 155,59.5 143,59.3 135.5,54.7 141.3,53 140.5,50 135.7,44.5 132,43.2 130.6,42.4 131,43 133,45 135,48.4 131,47.8 127.6,49.8 126,52.8 123.5,53.5 120.8,53.2 120,52 116.7,49.8 113,49.6 106,50.3 102,51 98,52 92,50.8 87.8,49.2 87.3,49.2 83.5,51 80,50.9 77,53.5 76.5,54 73.5,54 70,55.3 65,54.5 61,53.9 61.5,51 59.5,50.6 55,50.7 51,51.5 47.5,50.4 47.5,48 49,46.4 47.5,45.5 47,44 47.5,43 48.6,41.8 46.5,41.8 43.8,42.6","142.5,54.2 143.5,49.5 143,46 142,46 142,50","51.5,71.5 55.5,71 57.5,70.7 55,73 60,75 68.5,76.5 60,76.2 54,73.5","95,79 100,79 105,78.5 100,81 94,80.5","138,75.5 145,75 150,75.5 142,76","48,80.5 60,81 55,80","20,54.4 22.8,54.4 22.8,55.1 21,55.2"],
Myanmar:["92.6,22 93.3,24 94.2,23.9 95,25.5 97.3,28.2 98.5,28 97.5,24 98.7,24 99.2,22 101.2,21.5 100.1,20.3 97.8,18.6 98.5,15.5 99.6,11.8 98.7,10.2 98.2,13 97.6,16.5 95.5,15.8 94.3,16 94.3,18.5"],
Thailand:["100.1,20.3 101.3,19.4 101,17.5 102,18.2 104.7,17.5 105.5,14.6 103,14.3 102.4,13 102.9,11.7 100.9,12.7 100.1,13.4 99.2,10 100.3,8.2 102,6.2 101,5.7 100.1,6.5 98.3,8 98.7,10.2 99.6,11.8 98.5,15.5 97.8,18.6"],
Laos:["101.2,21.5 102,22.4 105.3,20 104,19.2 106.5,17 107.5,15 105.5,14.6 104.7,17.5 102,18.2 101,17.5 101.3,19.4 100.1,20.3"],
Vietnam:["102,22.4 105.3,23.2 106.7,22.5 108,21.5 105.8,19 109,14 109,11.5 105,8.6 105,10.4 106.5,11.5 107.5,15 106.5,17 104,19.2 105.3,20"],
Cambodia:["102.9,11.7 102.4,13 103,14.3 105.5,14.6 107.5,15 106.5,11.5 105,10.4"],
Malaysia:["100.1,6.5 101,5.7 102,6.2 103.4,4 104.2,1.4 101.3,2.9","109.6,2 111.3,2.7 113,3.2 115.5,5.4 117,7 119,5.2 117.6,4.2 115.5,4 114.8,1.5 113,1.2 110,0.9"],
Indonesia:["109,0.5 109.6,2 110,0.9 113,1.2 114.8,1.5 115.5,4 117.6,4.2 118,2 119,1 117.5,0.5 116.5,-1.5 116,-3.8 114.5,-4 111.5,-3 110,-1.5","95.3,5.6 97.5,5.2 100.5,2.2 103.5,0 106,-3 105.8,-5.8 104.5,-5.8 101,-3 98.7,1.7","105.3,-6.8 106.8,-6 111,-6.5 114.5,-7.7 114.4,-8.7 110,-8.1 106.5,-7.4","119.5,-5.5 120.4,-3 120.5,-2 121.7,-4.8 122.9,-4.5 121.5,-1.9 123,-0.9 121,-1.2 120,0.7 124,1 125,1.5 120.9,1.3 119.8,0 119,-3","116,-8.4 119,-8.2 119,-8.8 116,-9","119.8,-8.4 123,-8.3 122,-8.9 120,-8.9","123.5,-10.3 126,-8.6 127,-8.5 124,-10.3","127.5,2 128.5,1 128,-0.8","128,-3.3 130.8,-3.3 129.5,-3.6","131,-0.8 134,-0.8 135,-3.4 138,-1.7 141,-2.6 141,-9.1 138,-8.2 138.5,-6 135,-4.3 133,-4 132,-2.8 134,-2.2 132,-2.2"],
Philippines:["120.5,18.5 122.2,18.4 121.6,16 124,13 121,13.7 120,15.8","122,7 125.4,9.8 126.5,7.5 125.5,5.8 124,6.5","122,11.8 123.1,11 125.5,11.2 125,10 123,9.3 122,10.5","117.2,8.4 119.5,11.2 119.5,10.5 117.6,8.4"],
SriLanka:["80,9.7 81.8,7.5 81,6 80,6.2"]};
const outlinesEurope={
Iceland:["-24,65.5 -22,66.4 -18,66.2 -14.8,66.2 -13.6,65 -16,63.9 -19,63.4 -22.5,63.9 -22,65"],
Spain:["-9.2,43.2 -8,43.7 -1.8,43.4 0.7,42.7 3.2,42.4 3,41.8 0.5,40.5 -0.3,39.5 0,38.7 -1.8,37 -2.2,36.7 -4.4,36.7 -5.6,36 -6.4,36.8 -7.4,37.2 -7.5,38 -7,39.6 -6.5,41.6 -8.2,42 -8.8,42"],
Portugal:["-8.8,42 -8.2,42 -6.5,41.6 -7,39.6 -7.5,38 -7.4,37.2 -8.9,37 -9.5,38.7"],
France:["-1.8,43.4 -1.2,44.7 -2.5,47.3 -4.7,48 -1.6,48.7 -1.5,49.7 0.2,49.6 1.5,50.2 2.5,51.1 4.2,50 5.8,49.5 6.5,49.5 8.2,49 7.6,47.6 6,46.3 7,45.9 7,44.2 7.5,43.8 5.5,43.2 3.2,42.4 0.7,42.7","8.6,42.4 9.5,43 9.5,41.8 9.1,41.4"],
Belgium:["2.5,51.1 4.2,51.4 6,51 6.1,50 5.8,49.5 4.2,50"],
Netherlands:["4.2,51.4 4.8,53 7.1,53.4 7,52.2 6,51"],
Luxembourg:["5.8,49.5 6.1,50 6.5,49.5"],
Germany:["6,51 7,52.2 7.1,53.4 8.8,54 8.6,54.9 9.9,54.8 11,54 14.2,53.9 14.7,52.1 15,51 12.2,50.3 13.8,48.8 13,47.5 10,47.3 7.6,47.6 8.2,49 6.5,49.5 6.1,50"],
Denmark:["8.6,54.9 8.2,56.5 10.5,57.7 10.3,56 9.9,54.8","11,55.7 12.5,56 12,54.8"],
Switzerland:["6,46.3 7.6,47.6 9.6,47.5 10.4,46.8 9,45.9 7,45.9"],
Austria:["9.6,47.5 10,47.3 13,47.5 13.8,48.8 16.9,48.6 17,47.7 16,46.7 13.7,46.5 12.3,47 10.4,46.8"],
Italy:["7,44.2 7,45.9 9,45.9 10.4,46.8 12.3,47 13.7,46.5 13.7,45.7 12.3,45.3 12.3,44.3 13.6,43.5 16,41.9 18.5,40.2 17,40.5 16.6,39 15.7,38 15.7,40 13,41.2 11,42.5 10,44 8.5,44.3 7.5,43.8","12.5,38 15.6,38.2 15.1,36.7","8.3,41 9.7,41 9.5,39.1 8.5,39"],
Slovenia:["13.7,46.5 16,46.7 15.4,45.5 13.7,45.5"],
Croatia:["13.7,45.5 15.4,45.5 16,46.7 19,45.9 19,45 16,45.2 15.8,44.5 18.4,42.6 15.3,44 14.5,45.2"],
Bosnia:["16,45.2 19,45 19.5,44 19.2,43.5 18.4,42.6 15.8,44.5"],
Serbia:["19,45.9 20.3,46.1 22.6,44.2 22.5,42.4 20.6,41.9 20.6,42.6 19.2,43.5 19.5,44 19,45"],
Montenegro:["18.4,42.6 19.2,43.5 20.6,42.6 19.3,41.9"],
Albania:["19.3,41.9 20.6,42.6 20.6,41.9 20.9,40.8 20,39.7 19.4,40.5"],
NorthMacedonia:["20.6,41.9 22.5,42.4 23,41.3 20.9,40.8"],
Greece:["20,39.7 20.9,40.8 23,41.3 26.2,41.7 26,40.9 23.5,40.3 22.7,40.3 23,39 23,38 24,38 23,37 22.5,36.5 21.7,37 21,38.4","23.6,35.6 26.3,35.2 24.5,35"],
Bulgaria:["22.5,42.4 22.6,44.2 25,43.7 28.5,43.7 27.7,42.5 28,42 26.2,41.8 23,41.3"],
Romania:["20.3,46.1 22,47.9 24.9,47.9 26.6,48.2 28.2,45.5 29.7,45.3 28.5,43.7 25,43.7 22.6,44.2"],
Hungary:["16,46.7 17,47.7 18.8,47.9 22,48.4 22,47.9 20.3,46.1 19,45.9"],
Slovakia:["17,47.7 16.9,48.6 19,49.5 22.5,49.1 22,48.4 18.8,47.9"],
Czechia:["12.2,50.3 15,51 19,49.5 16.9,48.6 13.8,48.8"],
Poland:["14.2,53.9 18.5,54.8 19.8,54.4 22.8,54.4 23.5,53.9 23.9,52.7 24,51.6 24,50.9 22.5,49.1 19,49.5 15,51 14.7,52.1"],
Ukraine:["22.5,49.1 24,50.9 24,51.6 31.8,52.1 34,52.3 35.5,50.4 40,49.6 39.8,47.9 38.5,47 35,46.2 36.5,45.2 33.5,44.5 33,46 30.8,46.5 29.7,45.3 28.2,45.5 30,46.5 29.1,47.9 26.6,48.2 24.9,47.9 22,47.9 22,48.4"],
Moldova:["26.6,48.2 29.1,47.9 30,46.5 28.2,45.5"],
Belarus:["23.9,52.7 24,51.6 31.8,52.1 30.8,55 28.2,56.1 26.5,55.7 24.5,53.9 23.5,53.9"],
Lithuania:["21,56 26.5,55.7 24.5,53.9 23.5,53.9 22.8,54.4 22.8,55.1 21,55.2"],
Latvia:["21,56 21,57 22.6,57.7 24.4,57.2 24.4,57.9 27.5,57.5 28.2,56.1 26.5,55.7"],
Estonia:["23.4,59.2 28,59.5 27.5,57.5 24.4,57.9 24.4,58.4"],
Finland:["22.5,60 23,59.9 28,60.5 31.5,62.9 29.8,64.5 29,66.9 30,69 28.5,70 27,69.9 25.5,68.9 23.5,68.8 20.6,69.1 23.7,67.9 23.6,66.2 25.3,65.5 22,63.4 21.3,62"],
Sweden:["23.6,66.2 23.7,67.9 20.6,69.1 18,68.5 16.2,67.5 14.5,66 12,63.5 12.3,61 11.2,59 11,58.5 12.8,55.7 14.3,55.5 16.5,56.3 16.6,58.5 19,59.8 17.3,61 17.5,62.5 21,64 22,65.6"],
Norway:["5,60.5 7,58 8,58.2 10.5,59.3 11.2,59 12.3,61 12,63.5 14.5,66 16.2,67.5 18,68.5 20.6,69.1 23.5,68.8 25.5,68.9 27,69.9 28.5,70 31,70 28,71.1 24,71 18.5,69.8 14,67.5 10,64 5.2,62","12,78.5 17,80 27,80 20,77.5 17,76.5"],
UK:["-5.7,50 -3.5,50.3 1.4,51.2 1.7,52.7 0.3,53 -1.5,54.9 -2,55.9 -2,57.6 -4,57.7 -3,58.6 -5,58.6 -6,56.7 -4.9,55.6 -3.3,54.9 -3,53.4 -4.5,53.3 -4.3,52.2 -5.2,51.8 -3,51.4","-5.5,54.4 -6.3,55.2 -7.3,55.1 -8,54.5 -6.5,54.1"],
Ireland:["-6.5,54.1 -8,54.5 -7.3,55.1 -8.5,54.9 -10,54 -10,51.7 -6.3,52.2 -6,53.5"]};
const outlinesOceania={
Australia:["114,-22 113.6,-26 115,-34.3 118,-35 124,-33 129,-31.6 134,-32.7 135.6,-34.8 138,-33 138,-35.6 140.5,-38 144,-38.5 146.4,-39 150,-37.3 151.5,-33 153.5,-28.5 153,-25 149,-21 146,-19 145,-15 143.5,-14 142.5,-10.7 141.6,-13 141,-17 139.5,-17.5 135.5,-15 136.8,-12 132.5,-11.5 130,-13 129,-15 125,-14.5 122,-18 116.5,-20.7","144.7,-40.7 148.3,-40.9 148,-43.2 146,-43.6 145.2,-42.2"],
PNG:["141,-2.6 145,-4.3 147.7,-6 147,-6.8 150.8,-10.3 147.5,-10 144,-7.7 141,-9.1","148.5,-5.6 152,-4.2 152,-5.5 149,-6.2"],
NewZealand:["172.7,-34.5 174.8,-36.5 176,-37.6 178.5,-37.7 177,-39.5 175.3,-41.6 174.8,-39.8 173.8,-39.3 174.7,-37.5","172.7,-40.5 174.3,-41.5 173,-43.5 171,-45 170.5,-46 168.5,-46.6 166.5,-46 168,-44.2 171,-42"],
Solomon:["157,-7 159,-8 158,-8","159.8,-8.5 161.3,-9.8 160.5,-9.8"],
Vanuatu:["167,-15 167.5,-15.5 167.8,-16.5 167.2,-16"],
NewCaledonia:["164,-20.2 167,-22.3 166,-22.1"],
Fiji:["177.3,-17.5 178.6,-17.5 178.3,-18.3 177.3,-18.2"],
Samoa:["-172.8,-13.5 -171.5,-13.8 -172.2,-14"],
Tonga:["-175.3,-21 -175,-21.2 -175.3,-21.3"]};
const outlines=Object.assign({},outlinesAmericas,outlinesAfrica,outlinesAsia,outlinesEurope,outlinesOceania);

const robinsonLat=[0,5,10,15,20,25,30,35,40,45,50,55,60,65,70,75,80,85,90];
const robinsonX=[1,.9986,.9954,.99,.9822,.973,.96,.9427,.9216,.8962,.8679,.835,.7986,.7597,.7186,.6732,.6213,.5722,.5322];
const robinsonY=[0,.062,.124,.186,.248,.31,.372,.434,.4958,.5571,.6176,.6769,.7346,.7903,.8435,.8936,.9394,.9761,1];
const tableX=d3.scaleLinear().domain(robinsonLat).range(robinsonX);
const tableY=d3.scaleLinear().domain(robinsonLat).range(robinsonY);
const projection=d3.geoProjection((l,p)=>{
  const a=Math.abs(p)*180/Math.PI;
  return [.8487*tableX(a)*l,1.3523*tableY(a)*Math.sign(p)];
}).scale(157).translate([362.5,320.5]).precision(.2);
const path=d3.geoPath(projection);

const svg=d3.select("#c");
const defs=svg.append("defs");
const pat=defs.append("pattern").attr("id","hatch").attr("patternUnits","userSpaceOnUse").attr("width",4).attr("height",4).attr("patternTransform","rotate(-45)");
pat.append("rect").attr("width",4).attr("height",4).attr("fill","#fff");
pat.append("rect").attr("width",4).attr("height",1.2).attr("fill","#ddd");

const color=d3.scaleThreshold().domain(legendTicks.slice(1)).range(legendColors);
function feature(name){
  const polys=outlines[name].map(s=>{
    let ring=s.trim().split(/\s+/).map(p=>p.split(",").map(Number));
    ring.push(ring[0]);
    if(d3.geoArea({type:"Polygon",coordinates:[ring]})>2*Math.PI) ring=ring.slice().reverse();
    return [ring];
  });
  return {type:"MultiPolygon",coordinates:polys,name};
}
svg.append("g").selectAll("path").data(Object.keys(outlines).map(feature)).join("path")
  .attr("d",path)
  .attr("fill",d=>prevalence[d.name]==null?"url(#hatch)":color(prevalence[d.name]))
  .attr("stroke","#6e6e6e").attr("stroke-opacity",.65).attr("stroke-width",.5).attr("stroke-linejoin","round");

// Header
svg.append("text").attr("x",16).attr("y",40).attr("fill","#373737").attr("textLength",351).attr("lengthAdjust","spacingAndGlyphs")
  .style("font-family","'Liberation Serif',serif").style("font-weight",700).style("font-size","28px").text(titleText);
svg.append("text").attr("x",373).attr("y",40).attr("fill","#6e6e6e").style("font-size","18.5px").text(yearText);
svg.append("text").attr("x",16).attr("y",66).attr("fill","#5b5b5b").style("font-size","15px").text(subtitleText);
// Logo
svg.append("rect").attr("x",770).attr("y",16).attr("width",64).attr("height",36).attr("fill","#002147");
svg.append("rect").attr("x",770).attr("y",49.5).attr("width",64).attr("height",2.5).attr("fill","#ce261e");
[["Our World",30],["in Data",44.3]].forEach(([s,y])=>svg.append("text").attr("x",802).attr("y",y).attr("text-anchor","middle").attr("fill","#fff").style("font-size","11.8px").style("font-weight",700).text(s));
// Legend
const legendX=d3.scaleLinear().domain([0,350]).range([254,663]);
const lg=svg.append("g");
const edges=[...legendTicks,345];
lg.selectAll("rect.bin").data(legendColors).join("rect").attr("class","bin")
  .attr("x",(d,i)=>legendX(edges[i])).attr("y",537)
  .attr("width",(d,i)=>legendX(edges[i+1])-legendX(edges[i])).attr("height",11.5).attr("fill",d=>d);
lg.append("path").attr("fill","#990000").attr("d",()=>{const a=legendX(345),b=legendX(350);return `M${a},537 L${b},542.7 L${a},548.5 Z`;});
lg.selectAll("line.tick").data(legendTicks).join("line").attr("class","tick")
  .attr("x1",d=>legendX(d)).attr("x2",d=>legendX(d)).attr("y1",d=>d==0?537:533).attr("y2",548.5)
  .attr("stroke","#999").attr("stroke-width",.8).attr("stroke-opacity",.8);
lg.selectAll("text.tl").data(legendTicks).join("text").attr("class","tl")
  .attr("x",d=>legendX(d)).attr("y",530).attr("text-anchor","middle").attr("fill","#5b5b5b").style("font-size","13px").text(d=>d);
lg.append("rect").attr("x",186).attr("y",537).attr("width",47).attr("height",11.5).attr("fill","url(#hatch)").attr("stroke","#bbb").attr("stroke-width",.8);
lg.append("text").attr("x",209.5).attr("y",530).attr("text-anchor","middle").attr("fill","#5b5b5b").style("font-size","13px").text("No data");
// Footer
const f=svg.append("text").attr("x",16).attr("y",581).attr("fill","#5b5b5b").style("font-size","13px");
f.append("tspan").text("Data source:").style("font-weight",700);
f.append("tspan").text(" IHME, Global Burden of Disease (2025)");
svg.append("text").attr("x",832).attr("y",581).attr("text-anchor","end").attr("fill","#5b5b5b").style("font-size","13.1px").text("OurWorldinData.org/causes-of-death | CC BY");
</script></body></html>
